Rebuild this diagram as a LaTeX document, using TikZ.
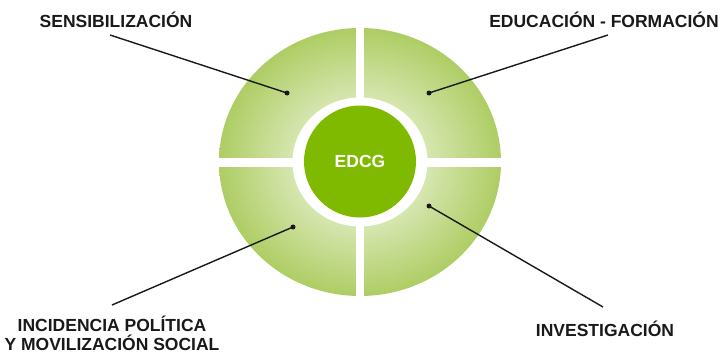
\documentclass[tikz,border=0pt]{standalone}
\usepackage{fontspec}
\setmainfont{Liberation Sans}
\usepackage{tikz}
\usetikzlibrary{positioning,calc}

\definecolor{ringlight}{RGB}{214,230,176}
\definecolor{ringdark}{RGB}{174,205,100}
\definecolor{coregreen}{RGB}{128,186,0}
\definecolor{linegray}{RGB}{25,25,25}
\pgfdeclareradialshading{ringshade}{\pgfpoint{0bp}{0bp}}{%
  color(0bp)=(ringlight); color(12bp)=(ringlight);
  color(25bp)=(ringdark); color(50bp)=(ringdark)}

\begin{document}
\begin{tikzpicture}[
  x=1pt, y=-1pt,
  every node/.style={font=\bfseries\fontsize{17.5}{18.5}\selectfont, text=linegray},
  label/.style={inner sep=0pt, align=center},
  dot/.style={circle, fill=linegray, inner sep=0pt, minimum size=5pt},
  leader/.style={draw=linegray, line width=1.4pt}
]
  \useasboundingbox (0,0) rectangle (722,353);

  % ring with the four parts
  \shade[shading=ringshade] (360,162) ellipse [x radius=141, y radius=134];
  \fill[white] (360,162) ellipse [x radius=67.5, y radius=64.5];
  \fill[white] (356,15) rectangle (364,310);
  \fill[white] (210,158) rectangle (510,166.5);
  \node[circle, fill=coregreen, minimum width=112pt, minimum height=107pt,
        inner sep=0pt, text=white, font=\bfseries\fontsize{17.5}{18}\selectfont]
        (core) at (360,161.5) {EDCG};

  % labels
  \node[label, anchor=base] (sens) at (116,28) {SENSIBILIZACIÓN};
  \node[label, anchor=base] (educ) at (604,28) {EDUCACIÓN - FORMACIÓN};
  \node[label, anchor=base] (inci) at (112,350) {INCIDENCIA POLÍTICA\\Y MOVILIZACIÓN SOCIAL};
  \node[label, anchor=base] (inve) at (605,336) {INVESTIGACIÓN};

  % leader ends
  \coordinate (sens-end) at (110,35);
  \coordinate (educ-end) at (608,35);
  \coordinate (inci-end) at (112,305);
  \coordinate (inve-end) at (603,307);

  \node[dot] (sens-dot) at (287,93) {};
  \node[dot] (educ-dot) at (429,93) {};
  \node[dot] (inci-dot) at (293,227) {};
  \node[dot] (inve-dot) at (429,206) {};

  \draw[leader] (sens-end) -- (sens-dot.center);
  \draw[leader] (educ-end) -- (educ-dot.center);
  \draw[leader] (inci-end) -- (inci-dot.center);
  \draw[leader] (inve-end) -- (inve-dot.center);
\end{tikzpicture}
\end{document}
